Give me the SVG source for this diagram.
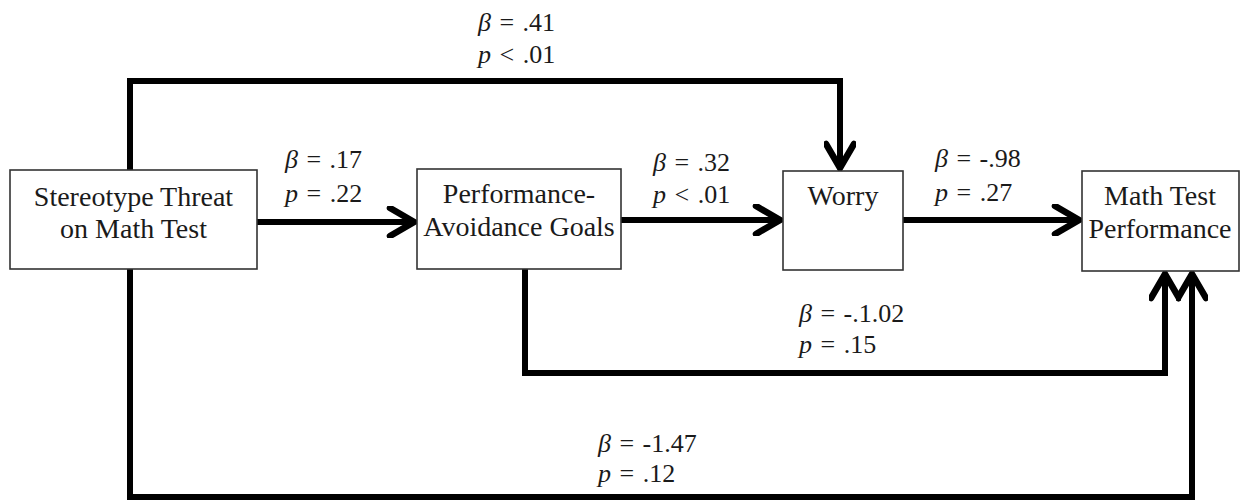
<svg xmlns="http://www.w3.org/2000/svg" width="1243" height="501" viewBox="0 0 1243 501">
<defs>
<style>
.box{fill:#fff;stroke:#333;stroke-width:1.6}
.nt{font-family:"Liberation Serif","Times New Roman",serif;font-size:28px;fill:#1a1a1a;text-anchor:middle}
.lb{font-family:"Liberation Serif","Times New Roman",serif;font-size:26px;fill:#1a1a1a;word-spacing:2px}
.it{font-style:italic}
.ln{fill:none;stroke:#000;stroke-width:6;stroke-linejoin:miter}
</style>
<marker id="ah" viewBox="-28 -16 32 32" markerWidth="32" markerHeight="32" refX="0" refY="0" orient="auto" markerUnits="userSpaceOnUse">
<path d="M-24,-14 L0,0 L-24,14" fill="none" stroke="#000" stroke-width="6.5" stroke-linecap="round" stroke-linejoin="miter"/>
</marker>
</defs>
<rect width="1243" height="501" fill="#fff"/>
<g id="connectors">
<path class="ln" d="M130,170 V81 H840 V168" marker-end="url(#ah)"/>
<path class="ln" d="M257,222 H414" marker-end="url(#ah)"/>
<path class="ln" d="M621,220 H780" marker-end="url(#ah)"/>
<path class="ln" d="M903,220 H1079" marker-end="url(#ah)"/>
<path class="ln" d="M525,269 V373 H1165 V274" marker-end="url(#ah)"/>
<path class="ln" d="M130,269 V497 H1192 V274" marker-end="url(#ah)"/>
</g>
<g id="node-threat">
<rect class="box" x="10" y="170" width="247" height="99"/>
<text class="nt" x="133.5" y="206">Stereotype Threat</text>
<text class="nt" x="133.5" y="238">on Math Test</text>
</g>
<g id="node-goals">
<rect class="box" x="417" y="169" width="204" height="100"/>
<text class="nt" x="519" y="203">Performance-</text>
<text class="nt" x="519" y="236">Avoidance Goals</text>
</g>
<g id="node-worry">
<rect class="box" x="783" y="171" width="120" height="99"/>
<text class="nt" x="843" y="205">Worry</text>
</g>
<g id="node-math">
<rect class="box" x="1082" y="171" width="157" height="100"/>
<text class="nt" x="1160" y="205">Math Test</text>
<text class="nt" x="1160" y="238">Performance</text>
</g>
<g id="labels">
<text class="lb" x="478" y="31"><tspan class="it">β</tspan> = .41</text>
<text class="lb" x="478" y="63"><tspan class="it">p</tspan> &lt; .01</text>
<text class="lb" x="285" y="168"><tspan class="it">β</tspan> = .17</text>
<text class="lb" x="285" y="202"><tspan class="it">p</tspan> = .22</text>
<text class="lb" x="653" y="171"><tspan class="it">β</tspan> = .32</text>
<text class="lb" x="653" y="203"><tspan class="it">p</tspan> &lt; .01</text>
<text class="lb" x="935" y="167"><tspan class="it">β</tspan> = -.98</text>
<text class="lb" x="935" y="201"><tspan class="it">p</tspan> = .27</text>
<text class="lb" x="799" y="322"><tspan class="it">β</tspan> = -.1.02</text>
<text class="lb" x="799" y="353"><tspan class="it">p</tspan> = .15</text>
<text class="lb" x="598" y="452"><tspan class="it">β</tspan> = -1.47</text>
<text class="lb" x="598" y="482"><tspan class="it">p</tspan> = .12</text>
</g>
</svg>
